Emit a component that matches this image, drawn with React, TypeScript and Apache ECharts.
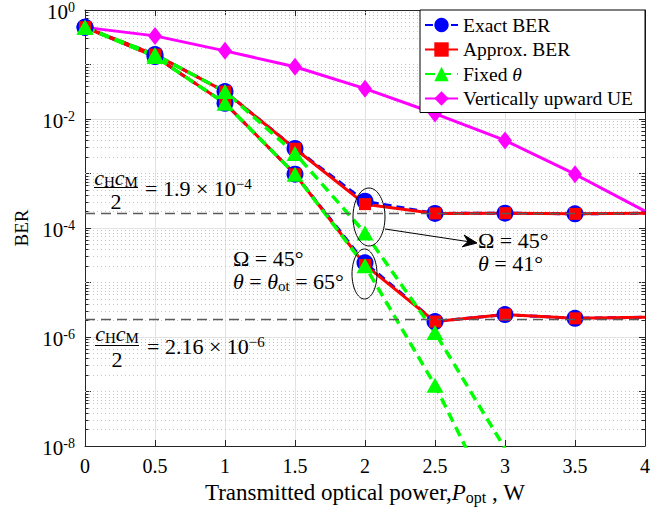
import React, { useEffect, useRef } from "react";
import * as echarts from "echarts";

// ---------- data ----------
const xValues = [0, 0.5, 1, 1.5, 2, 2.5, 3, 3.5, 4];
const exactTheta41 = [0.48, 0.152, 0.0318, 2.89e-3, 3.1e-4, 1.85e-4, 1.87e-4, 1.82e-4, 1.86e-4];
const exactTheta65 = [0.48, 0.14, 0.0194, 9.7e-4, 2.3e-5, 1.92e-6, 2.58e-6, 2.2e-6, 2.3e-6];
const approxTheta41 = [0.48, 0.152, 0.0318, 2.85e-3, 2.74e-4, 1.85e-4, 1.87e-4, 1.82e-4, 1.86e-4];
const approxTheta65 = [0.48, 0.14, 0.0194, 9.7e-4, 2.1e-5, 1.92e-6, 2.58e-6, 2.2e-6, 2.3e-6];
const fixedTheta41 = [0.48, 0.152, 0.0318, 2.34e-3, 8.1e-5, 1.21e-6, 9e-9];
const fixedTheta65 = [0.48, 0.14, 0.0194, 9.7e-4, 2.02e-5, 1.3e-7, 3.3e-10];
const verticalUE = [0.48, 0.335, 0.178, 0.091, 0.036, 0.0126, 4.05e-3, 9.7e-4, 2.04e-4];
const floorTheta41 = 1.9e-4;
const floorTheta65 = 2.16e-6;
const legendNames = ["Exact BER", "Approx. BER", "Fixed θ", "Vertically upward UE"];
const yMin = 1e-8;
const yMax = 1;

const F = "'Liberation Serif', 'Times New Roman', serif";

export default function App() {
  const ref = useRef<HTMLDivElement>(null);

  useEffect(() => {
    const chart = echarts.init(ref.current!, null, { renderer: "svg" });

    const toPoints = (ys: number[]) =>
      ys.map((y, i) =>
        xValues[i] === 4 ? { value: [xValues[i], y], symbol: "none" } : [xValues[i], y]
      );

    // minor log grid positions (2..9 x 10^n, and odd decades)
    const minorGrid: number[] = [];
    const minorTicks: number[] = [];
    for (let n = -8; n <= -1; n++) {
      for (let k = 1; k <= 9; k++) {
        const v = k * Math.pow(10, n);
        if (!(k === 1 && n % 2 === 0)) minorGrid.push(v);
        if (k > 1) minorTicks.push(v);
      }
    }

    const gridMarkLine = {
      silent: true,
      symbol: ["none", "none"],
      precision: 15,
      z: 1,
      animation: false,
      label: { show: false },
      emphasis: { disabled: true },
      data: [
        ...minorGrid.map((v) => ({
          yAxis: v,
          lineStyle: { color: "#c6c6c6", width: 1, type: [1, 3] },
        })),
        ...minorTicks.map((v) => [
          { coord: [0, v], lineStyle: { color: "#262626", width: 1, type: "solid" } },
          { coord: [0.025, v] },
        ]),
        ...minorTicks.map((v) => [
          { coord: [4, v], lineStyle: { color: "#262626", width: 1, type: "solid" } },
          { coord: [3.975, v] },
        ]),
      ],
    };

    const floorMarkLine = {
      silent: true,
      symbol: ["none", "none"],
      precision: 15,
      z: 20,
      animation: false,
      label: { show: false },
      emphasis: { disabled: true },
      lineStyle: { color: "#5a5a5a", width: 1.3, type: [10, 6] },
      data: [{ yAxis: floorTheta41 }, { yAxis: floorTheta65 }],
    };

    const blue = "#0000ff";
    const red = "#ff0000";
    const green = "#00ff00";
    const magenta = "#ff00ff";

    const base = {
      type: "line",
      z: 10,
      showAllSymbol: true,
      clip: true,
      emphasis: { disabled: true },
      animation: false,
    };

    const series: any[] = [
      {
        ...base,
        name: "Vertically upward UE",
        data: toPoints(verticalUE),
        symbol: "diamond",
        symbolSize: [14, 18],
        lineStyle: { color: magenta, width: 3 },
        itemStyle: { color: magenta },
        markLine: gridMarkLine,
      },
      {
        ...base,
        name: "Exact BER",
        data: toPoints(exactTheta41),
        symbol: "circle",
        symbolSize: 17,
        lineStyle: { color: blue, width: 3, type: [8, 5] },
        itemStyle: { color: blue },
      },
      {
        ...base,
        name: "Exact BER",
        data: toPoints(exactTheta65),
        symbol: "circle",
        symbolSize: 17,
        lineStyle: { color: blue, width: 3, type: [8, 5] },
        itemStyle: { color: blue },
      },
      {
        ...base,
        name: "Approx. BER",
        data: toPoints(approxTheta41),
        symbol: "rect",
        symbolSize: 12,
        lineStyle: { color: red, width: 3 },
        itemStyle: { color: red },
      },
      {
        ...base,
        name: "Approx. BER",
        data: toPoints(approxTheta65),
        symbol: "rect",
        symbolSize: 12,
        lineStyle: { color: red, width: 3 },
        itemStyle: { color: red },
      },
      {
        ...base,
        name: "Fixed θ",
        data: toPoints(fixedTheta41),
        symbol: "triangle",
        symbolSize: [17, 15],
        lineStyle: { color: green, width: 3.5, type: [10, 6] },
        itemStyle: { color: green },
      },
      {
        ...base,
        name: "Fixed θ",
        data: toPoints(fixedTheta65),
        symbol: "triangle",
        symbolSize: [17, 15],
        lineStyle: { color: green, width: 3.5, type: [10, 6] },
        itemStyle: { color: green },
        markLine: floorMarkLine,
      },
    ];

    const axisColor = "#262626";
    const AF = 22;

    const annRich: any = {
      n: { fontFamily: F, fontSize: AF, fill: "#000", color: "#000", lineHeight: 24 },
      i: { fontFamily: F, fontSize: AF, fontStyle: "italic", fill: "#000", color: "#000", lineHeight: 24 },
      s: { fontFamily: F, fontSize: 15, fill: "#000", color: "#000", lineHeight: 8, verticalAlign: "bottom" },
      p: { fontFamily: F, fontSize: 15, fill: "#000", color: "#000", lineHeight: 10, verticalAlign: "top" },
    };

    const txt = (x: number, y: number, text: string, align = "left") => ({
      type: "text",
      x,
      y,
      z: 50,
      silent: true,
      style: {
        text,
        rich: annRich,
        align,
        textAlign: align,
        verticalAlign: "middle",
        textVerticalAlign: "middle",
        fill: "#000",
        font: `${AF}px ${F}`,
      },
    });

    const line = (x1: number, y1: number, x2: number, y2: number) => ({
      type: "line",
      z: 50,
      silent: true,
      shape: { x1, y1, x2, y2 },
      style: { stroke: "#000", lineWidth: 1 },
    });

    const graphic: any[] = [
      // c_H c_M / 2 = 1.9e-4
      txt(116, 177, "{i|c}{s|H}{i|c}{s|M}", "center"),
      line(94, 187.5, 138, 187.5),
      txt(116, 201, "{n|2}", "center"),
      txt(145, 188, "{n|= 1.9 × 10}{p|−4}"),
      // c_H c_M / 2 = 2.16e-6
      txt(117, 333, "{i|c}{s|H}{i|c}{s|M}", "center"),
      line(95, 345.5, 139, 345.5),
      txt(117, 359, "{n|2}", "center"),
      txt(147, 346, "{n|= 2.16 × 10}{p|−6}"),
      // left annotation
      txt(233, 258, "{n|Ω = 45°}"),
      txt(233, 281, "{i|θ}{n| = }{i|θ}{s|ot}{n| = 65°}"),
      // right annotation
      txt(478, 240, "{n|Ω = 45°}"),
      txt(478, 263, "{i|θ}{n| = 41°}"),
      // ellipses
      {
        type: "ellipse",
        z: 50,
        silent: true,
        shape: { cx: 369, cy: 217, rx: 16, ry: 29 },
        style: { fill: "none", stroke: "#000", lineWidth: 1 },
      },
      {
        type: "ellipse",
        z: 50,
        silent: true,
        shape: { cx: 364.5, cy: 274, rx: 12.5, ry: 25 },
        style: { fill: "none", stroke: "#000", lineWidth: 1 },
      },
      // arrow
      line(385, 229, 468, 241.6),
      {
        type: "polygon",
        z: 50,
        silent: true,
        shape: {
          points: [
            [477, 243],
            [464.1, 235],
            [468.1, 241.6],
            [462.3, 246.8],
          ],
        },
        style: { fill: "#000", stroke: "#000", lineWidth: 1 },
      },
    ];

    const option: any = {
      animation: false,
      backgroundColor: "#fff",
      grid: { left: 85, right: 27, top: 8, bottom: 68, containLabel: false },
      legend: {
        data: legendNames,
        orient: "vertical",
        left: 420,
        top: 10,
        z: 30,
        itemWidth: 33,
        itemHeight: 18,
        itemGap: 4.5,
        padding: [5, 12, 4, 4],
        borderColor: "#000",
        borderWidth: 1,
        borderRadius: 0,
        backgroundColor: "#fff",
        selectedMode: false,
        formatter: (name: string) => (name === "Fixed θ" ? "Fixed {it|θ}" : name),
        textStyle: {
          fontFamily: F,
          fontSize: 19.5,
          color: "#000",
          rich: {
            it: { fontFamily: F, fontSize: 19.5, fontStyle: "italic", color: "#000" },
          },
        },
      },
      xAxis: [
        {
          type: "value",
          min: 0,
          max: 4,
          interval: 0.5,
          axisLine: { show: true, onZero: false, lineStyle: { color: axisColor, width: 1 } },
          axisTick: { show: true, inside: true, length: 6, lineStyle: { color: axisColor } },
          axisLabel: {
            fontFamily: F,
            fontSize: 20,
            color: "#000",
            margin: 10,
            formatter: (v: number) => String(v),
          },
          splitLine: { show: true, lineStyle: { color: "#e2e2e2", width: 1 } },
          name: "{n|Transmitted optical power,}{i|P}{s|opt}{n| , W}",
          nameLocation: "middle",
          nameGap: 32,
          nameTextStyle: {
            fontFamily: F,
            fontSize: 23,
            color: "#000",
            rich: {
              n: { fontFamily: F, fontSize: 23, color: "#000", lineHeight: 26 },
              i: { fontFamily: F, fontSize: 23, fontStyle: "italic", color: "#000", lineHeight: 26 },
              s: { fontFamily: F, fontSize: 16, color: "#000", lineHeight: 4, verticalAlign: "bottom" },
            },
          },
        },
        {
          type: "value",
          position: "top",
          min: 0,
          max: 4,
          interval: 0.5,
          axisLine: { show: true, onZero: false, lineStyle: { color: axisColor, width: 1 } },
          axisTick: { show: true, inside: true, length: 6, lineStyle: { color: axisColor } },
          axisLabel: { show: false },
          splitLine: { show: false },
        },
      ],
      yAxis: [
        {
          type: "log",
          logBase: 10,
          min: yMin,
          max: yMax,
          splitNumber: 8,
          axisLine: { show: true, onZero: false, lineStyle: { color: axisColor, width: 1 } },
          axisTick: { show: true, inside: true, length: 6, lineStyle: { color: axisColor } },
          axisLabel: {
            margin: 10,
            padding: [2, 0, 0, 0],
            formatter: (v: number) => {
              const e = Math.round(Math.log10(v));
              return e % 2 === 0 ? `{b|10}{s|${e}}` : "";
            },
            rich: {
              b: { fontFamily: F, fontSize: 21, color: "#000", lineHeight: 14, verticalAlign: "bottom" },
              s: { fontFamily: F, fontSize: 14, color: "#000", lineHeight: 22, verticalAlign: "top" },
            },
          },
          splitLine: {
            show: true,
            lineStyle: { color: ["#e2e2e2", "rgba(0,0,0,0)"], width: 1 },
          },
          name: "BER",
          nameLocation: "middle",
          nameGap: 46,
          nameTextStyle: { fontFamily: F, fontSize: 19, color: "#000" },
        },
        {
          type: "log",
          logBase: 10,
          position: "right",
          min: yMin,
          max: yMax,
          splitNumber: 8,
          axisLine: { show: true, onZero: false, lineStyle: { color: axisColor, width: 1 } },
          axisTick: { show: true, inside: true, length: 6, lineStyle: { color: axisColor } },
          axisLabel: { show: false },
          splitLine: { show: false },
        },
      ],
      series,
      graphic,
    };

    chart.setOption(option);
    return () => chart.dispose();
  }, []);

  return (
    <div
      ref={ref}
      style={{ position: "absolute", left: 0, top: 0, width: 672, height: 514 }}
    />
  );
}
